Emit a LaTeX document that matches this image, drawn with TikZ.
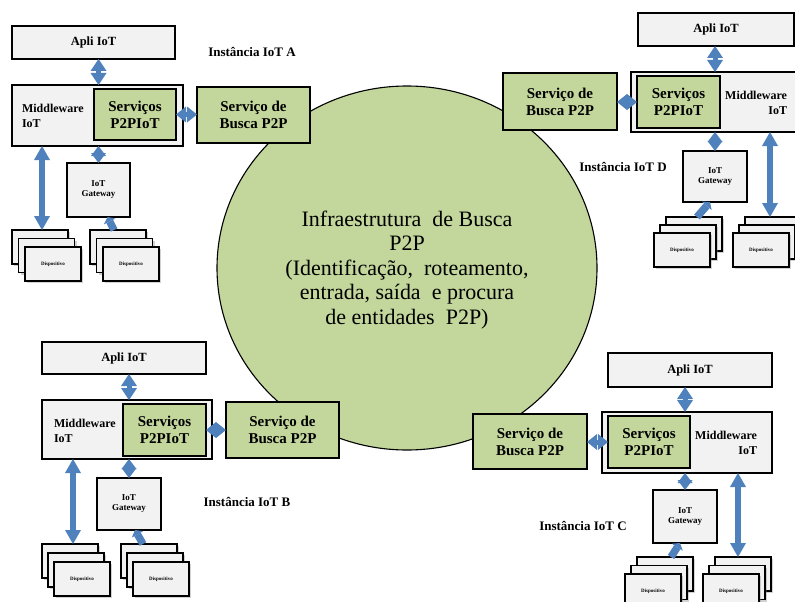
\documentclass[tikz,border=0pt]{standalone}
\usepackage{fontspec}
\setmainfont{Liberation Serif}
\usetikzlibrary{shadows,calc,shapes.geometric}
\definecolor{p2pgreen}{HTML}{C3D69B}
\definecolor{boxgray}{HTML}{F2F2F2}
\definecolor{linkblue}{HTML}{4F81BD}

% rectangle node given by its corners: style, name, x1, y1, x2, y2, text
\newcommand\rbox[7]{%
  \pgfmathsetmacro\rboxw{#5-#3}\pgfmathsetmacro\rboxh{#6-#4}%
  \node[#1,anchor=north west,minimum width=\rboxw pt,minimum height=\rboxh pt] (#2) at (#3,#4) {#7};}

% stack of three device cards: name, x, y, dx, dy
\newcommand\devstack[5]{%
  \node[devbox] (#1a) at (#2,#3) {};
  \node[devbox] (#1b) at ($(#1a.north west)+(#4,#5)$) {};
  \node[devbox] (#1c) at ($(#1b.north west)+(#4,#5)$) {Dispositivo};}

% two-headed block link: from, to, head half-width, head length, shaft width
\newcommand\dlink[5]{%
  \coordinate (dlA) at (#1); \coordinate (dlB) at (#2);
  \coordinate (dlA1) at ($(dlA)!#4!(dlB)$);
  \coordinate (dlB1) at ($(dlB)!#4!(dlA)$);
  \draw[linkblue, line width=#5] (dlA1) -- (dlB1);
  \fill[linkblue] (dlA) -- ($(dlA1)!#3!90:(dlB)$) -- ($(dlA1)!#3!-90:(dlB)$) -- cycle;
  \fill[linkblue] (dlB) -- ($(dlB1)!#3!90:(dlA)$) -- ($(dlB1)!#3!-90:(dlA)$) -- cycle;}

% one-headed stub link: from, to (head end)
\newcommand\slink[2]{%
  \coordinate (slA) at (#1); \coordinate (slB) at (#2);
  \coordinate (slB1) at ($(slB)!5pt!(slA)$);
  \draw[linkblue, line width=7.5pt] (slA) -- (slB1);
  \fill[linkblue] (slB) -- ($(slB1)!6.5pt!90:(slA)$) -- ($(slB1)!6.5pt!-90:(slA)$) -- cycle;}

\begin{document}
\begin{tikzpicture}[x=1pt,y=-1pt,
  every node/.style={inner sep=0pt, outer sep=0pt},
  frame/.style={draw=black, line width=1.1pt},
  appbox/.style={frame, fill=boxgray, font=\bfseries\fontsize{12.5}{14}\selectfont},
  midbox/.style={frame, fill=boxgray},
  p2pbox/.style={frame, fill=p2pgreen, align=center, font=\bfseries\fontsize{15}{17}\selectfont},
  gwbox/.style={frame, fill=boxgray, align=center, font=\bfseries\fontsize{9}{10}\selectfont},
  devbox/.style={frame, fill=boxgray, anchor=north west, minimum width=56pt, minimum height=34pt,
    drop shadow={shadow xshift=2pt, shadow yshift=-2pt, opacity=0.35},
    font=\bfseries\fontsize{5}{6}\selectfont},
  midlabel/.style={font=\bfseries\fontsize{12}{15}\selectfont},
  instlabel/.style={font=\bfseries\fontsize{13}{15}\selectfont}]

\useasboundingbox (0,0) rectangle (795,602);
\clip (0,0) rectangle (795,602);
\fill[white] (0,0) rectangle (795,602);

% search infrastructure
\node[draw=black, line width=1.1pt, fill=p2pgreen, ellipse, minimum width=380pt, minimum height=364pt] (infra) at (407,268) {};
\node[align=center, font=\fontsize{22}{24.5}\selectfont] (infratext) at (407,270)
  {Infraestrutura\ \ de Busca\\P2P\\(Identificação,\ \ roteamento,\\entrada,\ saída\ \ e procura\\de entidades\ \ P2P)};

% ---- instance A
\rbox{appbox}{appA}{12}{26}{175}{59}{Apli IoT}
\rbox{midbox}{midA}{12}{85}{183}{146}{}
\rbox{p2pbox}{srvA}{94}{89}{176}{140}{Serviços\\P2PIoT}
\rbox{p2pbox}{busA}{197}{87}{310}{143}{Serviço de\\Busca P2P}
\node[midlabel, align=left, anchor=west] (mlA) at (22,115.5) {Middleware\\IoT};
\node[instlabel] (instA) at (252,52) {Instância IoT A};
\rbox{gwbox}{gwA}{67}{163}{130}{217}{IoT\\Gateway}
\devstack{dA1}{12}{230}{6.5}{8.5}
\devstack{dA2}{90}{230}{6.5}{8.5}

% ---- instance D
\rbox{appbox}{appD}{638}{13}{794}{46}{Apli IoT}
\rbox{midbox}{midD}{631}{72}{805}{132}{}
\rbox{p2pbox}{srvD}{637}{76}{720}{128}{Serviços\\P2PIoT}
\rbox{p2pbox}{busD}{503}{73}{617}{130}{Serviço de\\Busca P2P}
\node[midlabel, align=right, anchor=east] (mlD) at (787,102.5) {Middleware\\IoT};
\node[instlabel] (instD) at (623,167) {Instância IoT D};
\rbox{gwbox}{gwD}{683}{151}{747}{202}{IoT\\Gateway}
\devstack{dD1}{666}{217}{-6}{8}
\devstack{dD2}{745}{217}{-6}{8}

% ---- instance B
\rbox{appbox}{appB}{42}{342}{206}{374}{Apli IoT}
\rbox{midbox}{midB}{42}{400}{212}{459}{}
\rbox{p2pbox}{srvB}{123}{404}{206}{456}{Serviços\\P2PIoT}
\rbox{p2pbox}{busB}{226}{402}{339}{458}{Serviço de\\Busca P2P}
\node[midlabel, align=left, anchor=west] (mlB) at (54,430.5) {Middleware\\IoT};
\node[instlabel] (instB) at (247,502) {Instância IoT B};
\rbox{gwbox}{gwB}{97}{478}{161}{530}{IoT\\Gateway}
\devstack{dB1}{42}{544}{6}{9}
\devstack{dB2}{121}{544}{6}{9}

% ---- instance C
\rbox{appbox}{appC}{608}{353}{772}{387}{Apli IoT}
\rbox{midbox}{midC}{602}{412}{772}{473}{}
\rbox{p2pbox}{srvC}{608}{416}{690}{468}{Serviços\\P2PIoT}
\rbox{p2pbox}{busC}{473}{414}{587}{469}{Serviço de\\Busca P2P}
\node[midlabel, align=right, anchor=east] (mlC) at (757,442.5) {Middleware\\IoT};
\node[instlabel] (instC) at (583,526) {Instância IoT C};
\rbox{gwbox}{gwC}{653}{490}{717}{543}{IoT\\Gateway}
\devstack{dC1}{637}{557}{-6}{8.5}
\devstack{dC2}{715}{557}{-6}{8.5}

% ---- connectors: application <-> middleware
\dlink{appA.south -| gwA.north}{midA.north -| gwA.north}{8pt}{12pt}{5pt}
\dlink{appB.south -| gwB.north}{midB.north -| gwB.north}{8pt}{12pt}{5pt}
\dlink{appC.south -| gwC.north}{midC.north -| gwC.north}{8pt}{12pt}{5pt}
\dlink{appD.south -| gwD.north}{midD.north -| gwD.north}{8pt}{12pt}{5pt}

% middleware <-> gateway
\dlink{midA.south -| gwA.north}{gwA.north}{7.5pt}{10pt}{5pt}
\dlink{midB.south -| gwB.north}{gwB.north}{7.5pt}{10pt}{5pt}
\dlink{midC.south -| gwC.north}{gwC.north}{7.5pt}{10pt}{5pt}
\dlink{midD.south -| gwD.north}{gwD.north}{7.5pt}{10pt}{5pt}

% P2P services <-> search service
\dlink{srvA.east}{srvA.east -| busA.west}{8pt}{10pt}{5pt}
\dlink{srvB.east}{srvB.east -| busB.west}{8pt}{10pt}{5pt}
\dlink{srvC.west}{srvC.west -| busC.east}{8pt}{10pt}{5pt}
\dlink{srvD.west}{srvD.west -| busD.east}{8pt}{10pt}{5pt}

% middleware <-> devices
\coordinate (lA) at ($(dA1a.north)+(2,0)$);
\coordinate (lB) at ($(dB1a.north)+(3,0)$);
\coordinate (lC) at ($(dC2a.north)+(-5,0)$);
\coordinate (lD) at ($(dD2a.north)+(-3,0)$);
\dlink{lA}{lA |- midA.south}{8pt}{14pt}{5.5pt}
\dlink{lB}{lB |- midB.south}{8pt}{14pt}{5.5pt}
\dlink{lC}{lC |- midC.south}{8pt}{14pt}{5.5pt}
\dlink{lD}{lD |- midD.south}{8pt}{14pt}{5.5pt}

% devices -> gateway
\slink{$(dA2a.north)+(-4,0)$}{$(gwA.south)+(9,0)$}
\slink{$(dB2a.north)+(-6,0)$}{$(gwB.south)+(6,0)$}
\slink{$(dC1a.north)+(6,0)$}{$(gwC.south)+(-5,0)$}
\slink{$(dD1a.north)+(3,0)$}{$(gwD.south)+(-5,0)$}
\end{tikzpicture}
\end{document}
